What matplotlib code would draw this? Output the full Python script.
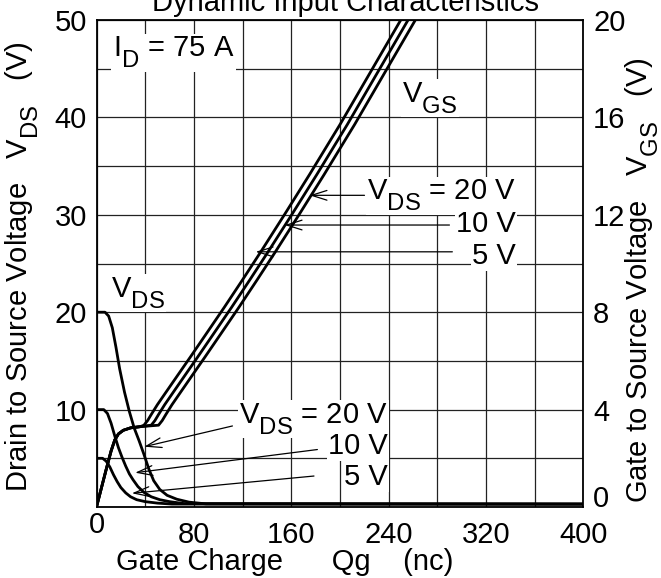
import matplotlib
matplotlib.use("Agg")
import matplotlib.pyplot as plt
import matplotlib._mathtext as _mt
from matplotlib.ticker import MultipleLocator, FixedLocator
from matplotlib.transforms import ScaledTranslation

_mt.SHRINK_FACTOR = 0.82
_mt.FontConstantsBase.sub1 = 0.7

plt.rcParams['font.family'] = ['Liberation Sans', 'DejaVu Sans']
plt.rcParams['mathtext.fontset'] = 'custom'
plt.rcParams['mathtext.rm'] = 'Liberation Sans'
plt.rcParams['mathtext.it'] = 'Liberation Sans:italic'
plt.rcParams['mathtext.bf'] = 'Liberation Sans:bold'

# ---- data (Qg in nC, voltages in V) ----
vds20_q = [0, 7, 10, 13, 16, 19, 23, 27, 31, 35, 39, 43, 47, 52, 58, 66, 76, 90, 400]
vds20_v = [20, 20, 19.6, 18.4, 16.4, 14.2, 11.8, 9.8, 8.1, 6.8, 5.4, 3.9, 2.7, 1.8, 1.2, 0.8, 0.5, 0.32, 0.3]
vds10_q = [0, 6, 9, 12, 15, 18, 21, 24, 27, 30, 34, 39, 45, 52, 60, 72, 400]
vds10_v = [10, 10, 9.6, 8.6, 7.3, 6.1, 5.1, 4.2, 3.4, 2.8, 2.1, 1.5, 1.05, 0.75, 0.55, 0.35, 0.3]
vds5_q = [0, 5, 8, 11, 14, 17, 20, 24, 28, 33, 40, 50, 62, 400]
vds5_v = [5, 5, 4.7, 4.1, 3.3, 2.6, 2.0, 1.45, 1.05, 0.75, 0.55, 0.4, 0.3, 0.3]

vgs5_q = [0, 8, 12, 15, 18, 22, 28, 36, 39, 42, 45, 50, 58, 67, 77, 90, 105, 120, 135, 155, 175, 200, 225, 250]
vgs5_v = [0, 1.55, 2.3, 2.75, 3.0, 3.15, 3.25, 3.3, 3.36, 3.55, 3.8, 4.2, 4.78, 5.43, 6.15, 7.1, 8.2, 9.33, 10.48, 12.05, 13.65, 15.7, 17.85, 20.0]
vgs10_q = [0, 8, 12, 15, 18, 22, 28, 36, 45, 48, 51, 56, 64, 73, 83, 96, 111, 126, 141, 161, 181, 206, 231, 256]
vgs10_v = [0, 1.55, 2.3, 2.75, 3.0, 3.15, 3.25, 3.3, 3.36, 3.55, 3.8, 4.2, 4.78, 5.43, 6.15, 7.1, 8.2, 9.33, 10.48, 12.05, 13.65, 15.7, 17.85, 20.0]
vgs20_q = [0, 8, 12, 15, 18, 22, 28, 36, 51, 54, 57, 62, 70, 79, 89, 102, 117, 132, 147, 167, 187, 212, 237, 262]
vgs20_v = [0, 1.55, 2.3, 2.75, 3.0, 3.15, 3.25, 3.3, 3.36, 3.55, 3.8, 4.2, 4.78, 5.43, 6.15, 7.1, 8.2, 9.33, 10.48, 12.05, 13.65, 15.7, 17.85, 20.0]

x_ticks = [0, 80, 160, 240, 320, 400]
left_ticks = [10, 20, 30, 40, 50]
right_ticks = [0, 4, 8, 12, 16, 20]

FS = 21

fig = plt.figure(figsize=(6.61, 5.78), dpi=100)
ax = fig.add_axes([96.5/661, 1-507/578, (583.3-96.5)/661, (507-20)/578])
ax.set_xlim(0, 400)
ax.set_ylim(0, 50)

ax.xaxis.set_major_locator(FixedLocator(x_ticks))
ax.xaxis.set_minor_locator(MultipleLocator(40))
ax.yaxis.set_major_locator(FixedLocator(left_ticks))
ax.yaxis.set_minor_locator(MultipleLocator(5))
ax.grid(True, which='both', color='#222222', lw=0.9)
ax.set_axisbelow(True)
ax.tick_params(which='both', length=0, labelsize=FS)
ax.tick_params(axis='x', pad=10)
ax.tick_params(axis='y', pad=7)
for s in ax.spines.values():
    s.set_linewidth(1.3)

for lab in ax.get_xticklabels():
    if lab.get_text() == '0':
        lab.set_transform(lab.get_transform() + ScaledTranslation(0, 7/72, fig.dpi_scale_trans))

ax.plot(vds20_q, vds20_v, color='black', lw=2.0, zorder=3)
ax.plot(vds10_q, vds10_v, color='black', lw=2.0, zorder=3)
ax.plot(vds5_q, vds5_v, color='black', lw=2.0, zorder=3)

ax2 = ax.twinx()
ax2.set_ylim(0, 20)
ax2.yaxis.set_major_locator(FixedLocator(right_ticks))
ax2.tick_params(length=0, labelsize=FS, pad=7)
for lab in ax2.get_yticklabels():
    if lab.get_text() == '0':
        lab.set_transform(lab.get_transform() + ScaledTranslation(0, 8/72, fig.dpi_scale_trans))
for s in ax2.spines.values():
    s.set_visible(False)
ax2.plot(vgs5_q, vgs5_v, color='black', lw=2.0)
ax2.plot(vgs10_q, vgs10_v, color='black', lw=2.0)
ax2.plot(vgs20_q, vgs20_v, color='black', lw=2.0)

box = dict(facecolor='white', edgecolor='none', pad=1)
tk = dict(fontsize=FS, zorder=4, bbox=box)
ax.text(13.5, 46.2, r'I$_{\mathrm{D}}$ = 75 A', ha='left', va='baseline', **tk)
ax.text(251.4, 41.5, r'V$_{\mathrm{GS}}$', ha='left', va='baseline', **tk)
ax.text(12, 21.5, r'V$_{\mathrm{DS}}$', ha='left', va='baseline', **tk)

ax.text(344.5, 31.5, r'V$_{\mathrm{DS}}$ = 20 V', ha='right', va='baseline', **tk)
ax.text(344.5, 28.2, '10 V', ha='right', va='baseline', **tk)
ax.text(344.5, 25.0, '5 V', ha='right', va='baseline', **tk)

ax.text(239.5, 8.59, r'V$_{\mathrm{DS}}$ = 20 V', ha='right', va='baseline', **tk)
ax.text(239.5, 5.45, '10 V', ha='right', va='baseline', **tk)
ax.text(239.5, 2.3, '5 V', ha='right', va='baseline', **tk)

ap = dict(arrowstyle='->,head_length=1.1,head_width=0.35', lw=0.9, color='black', shrinkA=0, shrinkB=0)
for tip, tail in [((175.1, 32.0), (220.2, 32.0)),
                  ((154.6, 28.95), (290.0, 28.95)),
                  ((130.8, 26.2), (292.4, 26.2)),
                  ((39.2, 6.19), (111.7, 8.32)),
                  ((31.8, 3.52), (181.5, 5.9)),
                  ((29.1, 1.41), (178.7, 3.18))]:
    ax.annotate('', xy=tip, xytext=tail, arrowprops=ap, zorder=5)

fig.text(345/661, 1-11/578, 'Dynamic Input Characteristics', ha='center', va='baseline', fontsize=FS)
fig.text(22/661, 1-267/578, r'Drain to Source Voltage   V$_{\mathrm{DS}}$   (V)', rotation=90,
         ha='center', va='center', fontsize=FS)
fig.text(642/661, 1-280/578, r'Gate to Source Voltage   V$_{\mathrm{GS}}$   (V)', rotation=90,
         ha='center', va='center', fontsize=FS)
fig.text(285/661, 1-562/578, 'Gate Charge      Qg    (nc)', ha='center', va='center', fontsize=FS)

fig.savefig('out.png', dpi=100)
